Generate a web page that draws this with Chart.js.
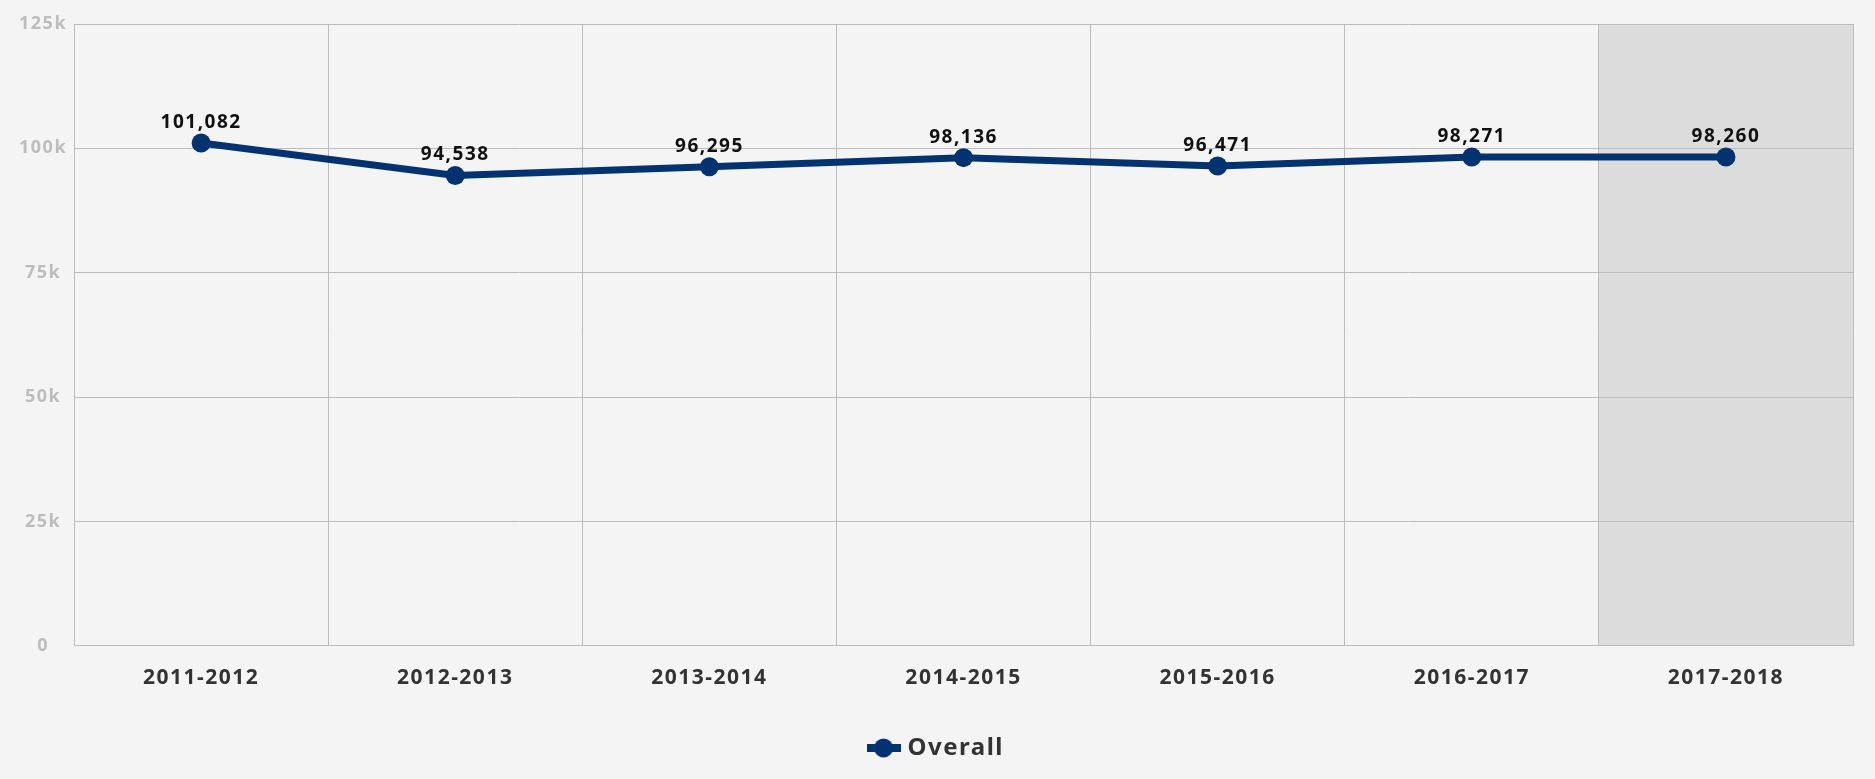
<!DOCTYPE html>
<html>
<head>
<meta charset="utf-8">
<script src="https://cdn.jsdelivr.net/npm/chart.js@4/dist/chart.umd.min.js"></script>
<style>
  html, body { margin: 0; padding: 0; background: #f4f4f4; }
  #wrap { width: 1875px; height: 779px; }
</style>
</head>
<body>
<div id="wrap"><canvas id="chart"></canvas></div>
<script>
const categories = ['2011-2012', '2012-2013', '2013-2014', '2014-2015', '2015-2016', '2016-2017', '2017-2018'];
const overall = [101082, 94538, 96295, 98136, 96471, 98271, 98260];
const yTicks = [0, 25000, 50000, 75000, 100000, 125000];
const highlighted = '2017-2018';

const navy = '#00336f';
const gridColor = '#bcbcbc';
const fontFamily = "'Noto Sans', 'Open Sans', sans-serif";

// legend marker: short line with a dot on it
const marker = document.createElement('canvas');
marker.width = 34;
marker.height = 20;
(() => {
  const c = marker.getContext('2d');
  c.fillStyle = navy;
  c.fillRect(0, 6, 34, 8);
  c.beginPath();
  c.arc(17, 10, 9.5, 0, Math.PI * 2);
  c.fill();
})();

// wider letter spacing for every text on the canvas
const spacing = {
  id: 'spacing',
  beforeDraw(chart) {
    chart.ctx.letterSpacing = '1.5px';
  },
};

// grey band behind the last season
const bandPlugin = {
  id: 'band',
  beforeDraw(chart) {
    const { ctx, chartArea, scales } = chart;
    const x = scales.x;
    const idx = categories.indexOf(highlighted);
    const half = (x.getPixelForValue(1) - x.getPixelForValue(0)) / 2;
    const center = x.getPixelForValue(idx);
    ctx.save();
    ctx.fillStyle = '#dcdcdc';
    ctx.fillRect(center - half, chartArea.top, half * 2, chartArea.bottom - chartArea.top);
    ctx.restore();
  },
};

// value labels above each point
const valueLabels = {
  id: 'valueLabels',
  afterDatasetsDraw(chart) {
    const { ctx } = chart;
    const meta = chart.getDatasetMeta(0);
    ctx.save();
    ctx.font = `bold 19px ${fontFamily}`;
    ctx.letterSpacing = '1.5px';
    ctx.fillStyle = '#111';
    ctx.textAlign = 'center';
    ctx.textBaseline = 'bottom';
    meta.data.forEach((pt, i) => {
      ctx.fillText(overall[i].toLocaleString('en-US'), pt.x, pt.y - 11);
    });
    ctx.restore();
  },
};

const chart = new Chart(document.getElementById('chart'), {
  type: 'line',
  data: {
    labels: categories,
    datasets: [
      {
        label: 'Overall',
        data: overall,
        borderColor: navy,
        backgroundColor: navy,
        borderWidth: 7,
        pointRadius: 9.5,
        pointHoverRadius: 9.5,
        pointBackgroundColor: navy,
        pointBorderWidth: 0,
        tension: 0,
      },
    ],
  },
  options: {
    responsive: true,
    maintainAspectRatio: false,
    animation: false,
    layout: {
      padding: { top: 24, left: 12, right: 22, bottom: 9 },
    },
    plugins: {
      tooltip: { enabled: false },
      legend: {
        position: 'bottom',
        labels: {
          usePointStyle: true,
          color: '#333',
          padding: 25,
          font: { family: fontFamily, size: 24, weight: 'bold' },
          generateLabels: () => [{
            text: 'Overall',
            pointStyle: marker,
            fontColor: '#333',
            datasetIndex: 0,
            hidden: false,
          }],
        },
      },
    },
    scales: {
      x: {
        offset: true,
        grid: {
          offset: true,
          color: gridColor,
          drawTicks: false,
        },
        border: { color: gridColor },
        ticks: {
          color: '#333',
          padding: 20,
          font: { family: fontFamily, size: 21, weight: 'bold' },
        },
      },
      y: {
        min: 0,
        max: 125000,
        afterBuildTicks: (axis) => {
          axis.ticks = yTicks.map((v) => ({ value: v }));
        },
        grid: {
          color: gridColor,
          drawTicks: false,
        },
        border: { color: gridColor },
        ticks: {
          color: '#bdbdbd',
          padding: 10,
          crossAlign: 'center',
          font: { family: fontFamily, size: 18, weight: 'bold' },
          callback: (v) => (v === 0 ? '0' : `${v / 1000}k`),
        },
      },
    },
  },
  plugins: [spacing, bandPlugin, valueLabels],
});
</script>
</body>
</html>
